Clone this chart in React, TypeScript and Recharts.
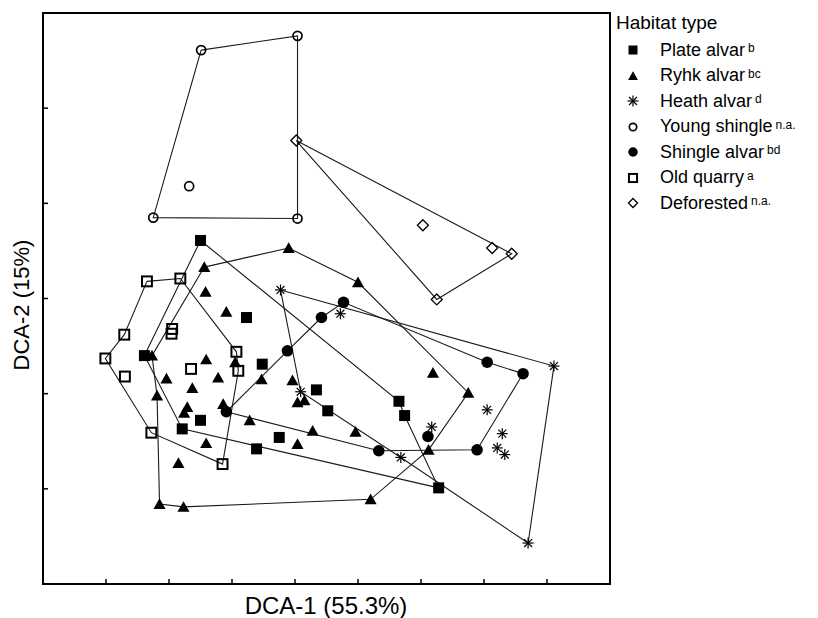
import { ScatterChart, Scatter, XAxis, YAxis, ReferenceArea } from 'recharts';

// DCA scores, [axis 1, axis 2]
const plateAlvar: [number, number][] = [
  [2.5, 3.61], [3.23, 2.8], [1.61, 2.4], [3.48, 2.31], [4.34, 2.04], [4.52, 1.82], [2.5, 1.72],
  [2.21, 1.63], [5.65, 1.92], [5.74, 1.77], [3.75, 1.54], [3.39, 1.42], [6.28, 1.01],
];
const plateHull = [0, 8, 9, 12, 7, 2];

const ryhkAlvar: [number, number][] = [
  [2.56, 3.33], [3.9, 3.53], [5.0, 3.17], [6.75, 2.01], [6.12, 1.41], [5.2, 0.89], [2.23, 0.81],
  [1.85, 0.84], [1.81, 1.98], [1.73, 2.4], [2.58, 3.07], [2.91, 2.86], [2.59, 2.36], [1.96, 2.16],
  [2.37, 2.06], [2.78, 2.17], [3.05, 2.33], [3.47, 2.15], [3.96, 2.14], [2.29, 1.86], [2.24, 1.8],
  [2.86, 1.89], [2.59, 1.48], [2.15, 1.27], [3.28, 1.72], [4.04, 1.47], [4.28, 1.61], [4.04, 1.91],
  [4.15, 1.93], [4.96, 1.6], [6.19, 2.22],
];
const ryhkHull = [0, 1, 2, 3, 4, 5, 6, 7, 8, 9];

const heathAlvar: [number, number][] = [
  [3.77, 3.09], [8.11, 2.29], [7.7, 0.43], [5.68, 1.33], [4.09, 2.02], [4.72, 2.84], [7.05, 1.83],
  [6.17, 1.65], [7.29, 1.58], [7.21, 1.43], [7.33, 1.36],
];
const heathHull = [0, 1, 2, 3, 4];

const youngShingle: [number, number][] = [
  [2.51, 5.61], [4.04, 5.76], [4.04, 3.84], [1.75, 3.85], [2.32, 4.18],
];
const youngHull = [0, 1, 2, 3];

const shingleAlvar: [number, number][] = [
  [2.91, 1.81], [3.88, 2.45], [4.42, 2.8], [4.77, 2.96], [7.05, 2.33], [7.62, 2.21], [6.89, 1.41],
  [5.33, 1.4], [6.11, 1.55],
];
const shingleHull = [0, 1, 2, 3, 4, 5, 6, 7];

const oldQuarry: [number, number][] = [
  [1.65, 3.18], [2.18, 3.21], [3.07, 2.44], [3.1, 2.24], [2.85, 1.26], [1.72, 1.59], [0.99, 2.37],
  [1.29, 2.62], [1.3, 2.18], [2.05, 2.68], [2.04, 2.63], [2.35, 2.26],
];
const quarryHull = [0, 1, 2, 3, 4, 5, 6, 7];

const deforested: [number, number][] = [
  [4.02, 4.66], [6.03, 3.77], [7.13, 3.53], [7.44, 3.47], [6.25, 2.99],
];
const deforestedHull = [0, 3, 4];

const xTicks = [1, 2, 3, 4, 5, 6, 7, 8];
const yTicks = [1, 2, 3, 4, 5];

type Marker = 'square' | 'triangle' | 'star' | 'circleOpen' | 'circle' | 'squareOpen' | 'diamond';

const groups: { name: string; sup: string; marker: Marker; points: [number, number][]; hull: number[] }[] = [
  { name: 'Plate alvar', sup: 'b', marker: 'square', points: plateAlvar, hull: plateHull },
  { name: 'Ryhk alvar', sup: 'bc', marker: 'triangle', points: ryhkAlvar, hull: ryhkHull },
  { name: 'Heath alvar', sup: 'd', marker: 'star', points: heathAlvar, hull: heathHull },
  { name: 'Young shingle', sup: 'n.a.', marker: 'circleOpen', points: youngShingle, hull: youngHull },
  { name: 'Shingle alvar', sup: 'bd', marker: 'circle', points: shingleAlvar, hull: shingleHull },
  { name: 'Old quarry', sup: 'a', marker: 'squareOpen', points: oldQuarry, hull: quarryHull },
  { name: 'Deforested', sup: 'n.a.', marker: 'diamond', points: deforested, hull: deforestedHull },
];

function drawMarker(kind: Marker, cx: number, cy: number, s: number) {
  switch (kind) {
    case 'square':
      return <rect x={cx - s} y={cy - s} width={2 * s} height={2 * s} fill="#000" />;
    case 'triangle':
      return <polygon points={`${cx},${cy - s * 1.05} ${cx - s * 1.1},${cy + s * 0.9} ${cx + s * 1.1},${cy + s * 0.9}`} fill="#000" />;
    case 'star': {
      const d = s * 0.72;
      return (
        <g stroke="#000" strokeWidth={1.2}>
          <line x1={cx} y1={cy - s} x2={cx} y2={cy + s} />
          <line x1={cx - s} y1={cy} x2={cx + s} y2={cy} />
          <line x1={cx - d} y1={cy - d} x2={cx + d} y2={cy + d} />
          <line x1={cx - d} y1={cy + d} x2={cx + d} y2={cy - d} />
        </g>
      );
    }
    case 'circleOpen':
      return <circle cx={cx} cy={cy} r={s * 0.82} fill="none" stroke="#000" strokeWidth={1.7} />;
    case 'circle':
      return <circle cx={cx} cy={cy} r={s * 1.05} fill="#000" />;
    case 'squareOpen':
      return <rect x={cx - s * 0.9} y={cy - s * 0.9} width={1.8 * s} height={1.8 * s} fill="none" stroke="#000" strokeWidth={2} />;
    case 'diamond':
      return <polygon points={`${cx},${cy - s} ${cx + s},${cy} ${cx},${cy + s} ${cx - s},${cy}`} fill="none" stroke="#000" strokeWidth={1.3} />;
  }
}

const font = '"Liberation Sans", Arial, sans-serif';

export default function App() {
  return (
    <div style={{ position: 'absolute', left: 0, top: 0, width: 818, height: 618, background: '#fff', fontFamily: font }}>
      <ScatterChart width={818} height={618} margin={{ top: 13, right: 208, bottom: 34, left: 43 }}>
        <XAxis type="number" dataKey="x" domain={[0, 9]} ticks={xTicks} height={1} mirror axisLine={false}
          tickSize={5} tickLine={{ stroke: '#000', strokeWidth: 1.5 }} tick={() => <g />} />
        <YAxis type="number" dataKey="y" domain={[0, 6]} ticks={yTicks} width={1} mirror axisLine={false}
          tickSize={5} tickLine={{ stroke: '#000', strokeWidth: 1.5 }} tick={() => <g />} />
        <ReferenceArea x1={0} x2={9} y1={0} y2={6} fill="none" stroke="#000" strokeWidth={2} />
        {groups.map((g) => (
          <Scatter
            key={g.name + '-hull'}
            data={[...g.hull, g.hull[0]].map((i) => ({ x: g.points[i][0], y: g.points[i][1] }))}
            line={{ stroke: '#1a1a1a', strokeWidth: 1.1 }}
            lineType="joint"
            shape={() => <g />}
            isAnimationActive={false}
          />
        ))}
        {groups.map((g) => (
          <Scatter
            key={g.name}
            data={g.points.map(([x, y]) => ({ x, y }))}
            shape={(p: any) => drawMarker(g.marker, p.cx, p.cy, 5.5)}
            isAnimationActive={false}
          />
        ))}
      </ScatterChart>

      <div style={{ position: 'absolute', left: 226, top: 592, width: 200, textAlign: 'center', fontSize: 24, lineHeight: '28px', whiteSpace: 'nowrap' }}>
        DCA-1 (55.3%)
      </div>
      <div style={{ position: 'absolute', left: 22, top: 305, transform: 'translate(-50%, -50%) rotate(-90deg)', fontSize: 22, lineHeight: '26px', whiteSpace: 'nowrap' }}>
        DCA-2 (15%)
      </div>

      <div style={{ position: 'absolute', left: 616, top: 12, fontSize: 19, lineHeight: '22px', whiteSpace: 'nowrap' }}>Habitat type</div>
      {groups.map((g, i) => (
        <div key={g.name} style={{ position: 'absolute', left: 624, top: 38 + i * 25.5, height: 24, display: 'flex', alignItems: 'center', whiteSpace: 'nowrap' }}>
          <svg width={20} height={20} style={{ marginRight: 16 }}>
            {drawMarker(g.marker, 9, 10, g.marker === 'star' ? 5.5 : 4.5)}
          </svg>
          <span style={{ fontSize: 18 }}>{g.name}</span>
          <sup style={{ fontSize: 12, marginLeft: 3, position: 'relative', top: -2 }}>{g.sup}</sup>
        </div>
      ))}
    </div>
  );
}
